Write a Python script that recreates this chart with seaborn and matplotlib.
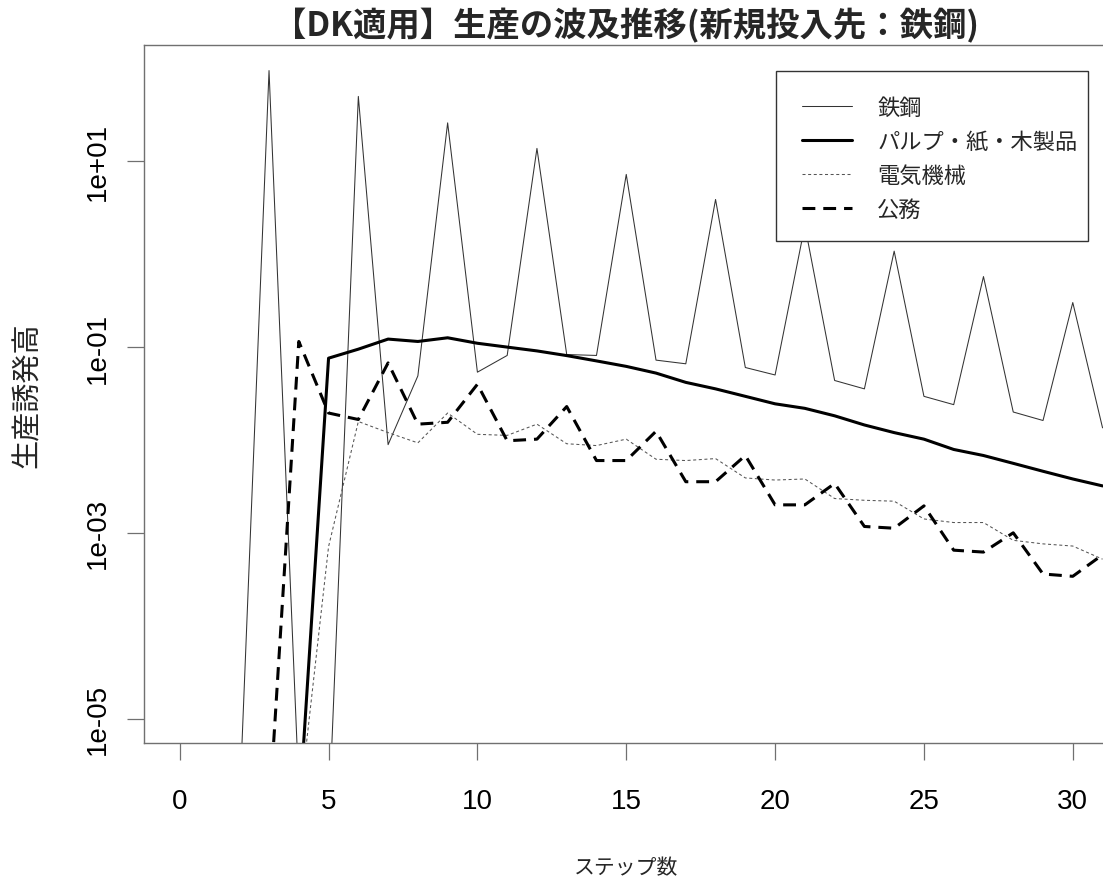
import matplotlib
matplotlib.use('Agg')
import matplotlib.pyplot as plt
from matplotlib.patches import Rectangle
import pandas as pd
import seaborn as sns

# step index
steps = list(range(32))

# 生産誘発高 per sector (tiny values sit below the axis floor of 1e-05)
tekko = [1e-8, 1e-8, 1.0e-6, 95.1, 1.8e-6, 7.2e-7, 50.1, 0.0089, 0.049, 26.0,
         0.0537, 0.0813, 13.8, 0.0832, 0.0813, 7.24, 0.0724, 0.0661, 3.89, 0.0603,
         0.0501, 2.04, 0.0437, 0.0355, 1.08, 0.0295, 0.024, 0.575, 0.020, 0.0162,
         0.302, 0.0135]
pulp = [1e-9, 1e-9, 1e-9, 1e-9, 8.5e-7, 0.076, 0.095, 0.122, 0.115, 0.126,
        0.110, 0.100, 0.091, 0.081, 0.071, 0.062, 0.0525, 0.0417, 0.0355, 0.0295,
        0.0245, 0.0219, 0.0182, 0.0145, 0.0120, 0.0102, 0.0079, 0.0068, 0.0056, 0.0046,
        0.0038, 0.0032]
denki = [1e-9, 1e-9, 1e-9, 1e-9, 1.0e-6, 7.1e-4, 0.0158, 0.012, 0.0093, 0.0195,
         0.0115, 0.0112, 0.0148, 0.0091, 0.0087, 0.0102, 0.0062, 0.0060, 0.0063, 0.0039,
         0.0037, 0.0038, 0.00234, 0.00224, 0.00219, 0.00141, 0.00129, 0.00129, 8.3e-4, 7.6e-4,
         7.2e-4, 5.2e-4]
koumu = [1e-9, 1e-9, 1e-9, 8.9e-7, 0.115, 0.0195, 0.0166, 0.0676, 0.0148, 0.0155,
         0.0398, 0.0098, 0.0102, 0.0229, 0.0060, 0.0060, 0.0124, 0.00355, 0.00355, 0.0068,
         0.0020, 0.0020, 0.0034, 0.00117, 0.00112, 0.00195, 6.5e-4, 6.2e-4, 0.0010, 3.6e-4,
         3.4e-4, 5.8e-4]

labels = ['鉄鋼', 'パルプ・紙・木製品', '電気機械', '公務']
xticks = [0, 5, 10, 15, 20, 25, 30]
yticks = [1e-5, 1e-3, 1e-1, 1e1]
ytick_labels = ['1e-05', '1e-03', '1e-01', '1e+01']

sns.set_theme(style='white')
plt.rcParams['font.family'] = ['Liberation Sans', 'Noto Sans CJK JP']
jp = ['Noto Sans CJK JP', 'DejaVu Sans']

W, H = 1103, 887
fig = plt.figure(figsize=(W / 100, H / 100), dpi=100)
# plot region runs a little past the right edge of the image, as in the original
ax_l, ax_r, ax_t, ax_b = 144, 1108.5, 45.5, 744.3
ax = fig.add_axes([ax_l / W, 1 - ax_b / H, (ax_r - ax_l) / W, (ax_b - ax_t) / H])

df = pd.DataFrame({'step': steps, 'tekko': tekko, 'pulp': pulp,
                   'denki': denki, 'koumu': koumu})

styles = [
    ('tekko', dict(color='#333333', linewidth=0.75, linestyle='-')),
    ('pulp', dict(color='black', linewidth=2.2, linestyle='-')),
    ('denki', dict(color='#555555', linewidth=0.75, linestyle=(0, (2.9, 2.5)))),
    ('koumu', dict(color='black', linewidth=2.2, linestyle=(0, (4.2, 2.6)))),
]
for (col, kw), lab in zip(styles, labels):
    sns.lineplot(data=df, x='step', y=col, ax=ax, label=lab, **kw)

ax.set_yscale('log')
ax.set_xlim(-1.2, 31.2)
ax.set_ylim(10 ** -5.267, 10 ** 2.259)
ax.set_xticks(xticks)
ax.set_xticklabels([str(t) for t in xticks])
ax.set_yticks(yticks)
ax.set_yticklabels(ytick_labels)
ax.minorticks_off()

for s in ax.spines.values():
    s.set_color('#707070')
    s.set_linewidth(1.0)

ax.tick_params(axis='both', direction='out', length=12.2, width=0.9,
               color='#707070', labelsize=20, labelcolor='black',
               bottom=True, left=True)
ax.tick_params(axis='x', pad=20)
ax.tick_params(axis='y', pad=11.7)
for lbl in ax.get_yticklabels():
    lbl.set_rotation(90)
    lbl.set_va('center')

ax.set_xlabel('ステップ数', family=jp, fontsize=15)
ax.set_ylabel('生産誘発高', family=jp, fontsize=21)
ax_w = ax_r - ax_l
ax_h = ax_b - ax_t
ax.xaxis.label.set_va('center')
ax.xaxis.set_label_coords((626 - ax_l) / ax_w, -(868 - ax_b) / ax_h)
ax.yaxis.label.set_va('center')
ax.yaxis.set_label_coords(-(ax_l - 27.5) / ax_w, 0.5)

fig.text(626 / W, 1 - 26 / H, '【DK適用】生産の波及推移(新規投入先：鉄鋼)',
         ha='center', va='center', fontsize=24, fontweight='bold', family=jp)

# legend entries without frame; the box is drawn separately to match R's padding
leg = ax.legend(loc='upper left', bbox_to_anchor=(801.7 / W, 1 - 96.5 / H),
                bbox_transform=fig.transFigure, prop={'family': jp, 'size': 16},
                frameon=False, borderpad=0, borderaxespad=0, handlelength=2.25,
                handletextpad=1.15, labelspacing=0.5)
leg.set_zorder(6)
box = Rectangle((776 / W, 1 - 241.7 / H), (1088 - 776) / W, (241.7 - 71.7) / H,
                transform=fig.transFigure, facecolor='white', edgecolor='#333333',
                linewidth=1.0, zorder=5, clip_on=False)
ax.add_patch(box)

fig.savefig('out.png', dpi=100)
